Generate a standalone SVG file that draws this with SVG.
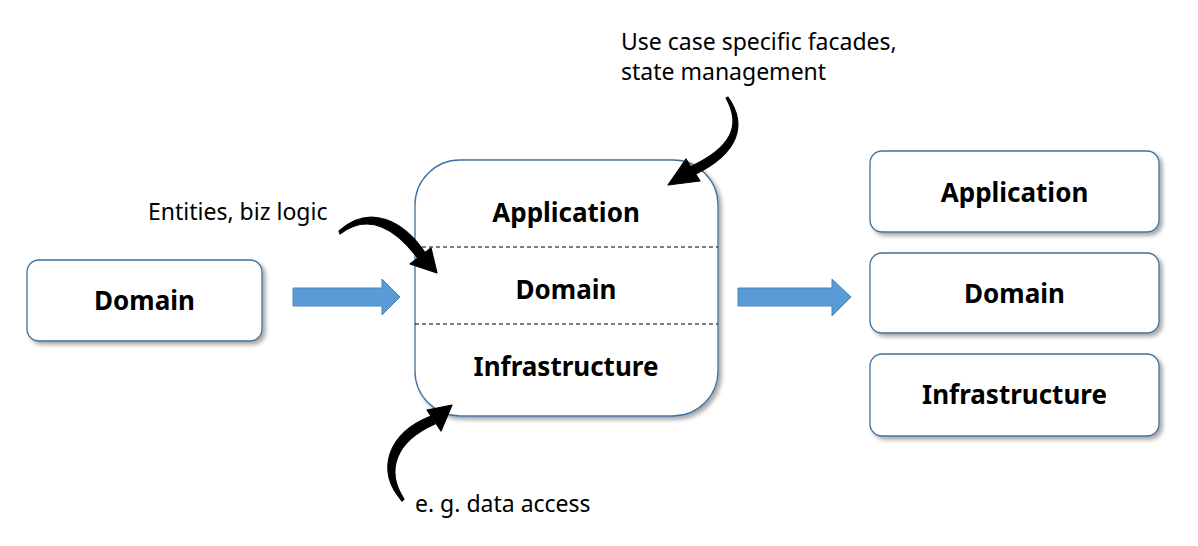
<svg xmlns="http://www.w3.org/2000/svg" width="1198" height="546" viewBox="0 0 1198 546">
<style>
.box{fill:#fff;stroke:#41719C;stroke-width:1.3;filter:url(#sh)}
.t{font-family:"Noto Sans","Liberation Sans",sans-serif;font-weight:bold;font-size:26px;fill:#000;text-anchor:middle}
.lbl{font-family:"Noto Sans","Liberation Sans",sans-serif;font-size:23px;fill:#000}
.blk{fill:#000;stroke:#000;stroke-width:1.2;stroke-linejoin:round}
.blue{fill:#5B9BD5;stroke:#4A86BE;stroke-width:1}
.dash{stroke:#000;stroke-width:1;stroke-dasharray:4 3}
</style>
<defs>
<filter id="sh" x="-10%" y="-10%" width="125%" height="130%">
<feGaussianBlur in="SourceAlpha" stdDeviation="2"/>
<feOffset dx="3" dy="3" result="b"/>
<feComponentTransfer><feFuncA type="linear" slope="0.35"/></feComponentTransfer>
<feMerge><feMergeNode/><feMergeNode in="SourceGraphic"/></feMerge>
</filter>
</defs>
<rect width="1198" height="546" fill="#fff"/>

<g id="node-domain-left">
<rect class="box" x="27" y="260" width="235" height="81" rx="12"/>
<text class="t" x="144.5" y="310">Domain</text>
</g>

<g id="node-center">
<rect class="box" x="415" y="160" width="303" height="256" rx="45"/>
<line class="dash" x1="415" y1="247" x2="718" y2="247"/>
<line class="dash" x1="415" y1="324" x2="718" y2="324"/>
<text class="t" x="566" y="222">Application</text>
<text class="t" x="566" y="299">Domain</text>
<text class="t" x="566" y="376">Infrastructure</text>
</g>

<g id="node-app-right">
<rect class="box" x="870" y="151" width="289" height="81" rx="12"/>
<text class="t" x="1014.5" y="202">Application</text>
</g>
<g id="node-domain-right">
<rect class="box" x="870" y="253" width="289" height="80" rx="12"/>
<text class="t" x="1014.5" y="303">Domain</text>
</g>
<g id="node-infra-right">
<rect class="box" x="870" y="354" width="289" height="82" rx="12"/>
<text class="t" x="1014.5" y="404">Infrastructure</text>
</g>

<g id="connectors">
<polygon class="blue" points="293,288 382,288 382,279 400,297 382,315 382,306 293,306"/>
<polygon class="blue" points="738,288 832,288 832,279 851,297 832,316 832,306 738,306"/>
<path class="blk" d="M728,97 C747,124 740,153 694,175 L690,167 C731,148 742,126 726,98 Z"/>
<polygon class="blk" points="668,185 686,159 700,181"/>
<path class="blk" d="M339,231 C370,203 404,221 426,254 L419,260 C397,229 369,212 340,234 Z"/>
<polygon class="blk" points="437,273 410,264 431,248"/>
<path class="blk" d="M402,501 C375,470 388,433 431,416 L435,424 C396,441 385,470 404,499 Z"/>
<polygon class="blk" points="452,405 427,410 441,431"/>
</g>

<g id="labels">
<text class="lbl" x="621" y="50">Use case specific facades,</text>
<text class="lbl" x="621" y="80">state management</text>
<text class="lbl" x="148" y="220">Entities, biz logic</text>
<text class="lbl" x="415" y="512">e. g. data access</text>
</g>
</svg>
